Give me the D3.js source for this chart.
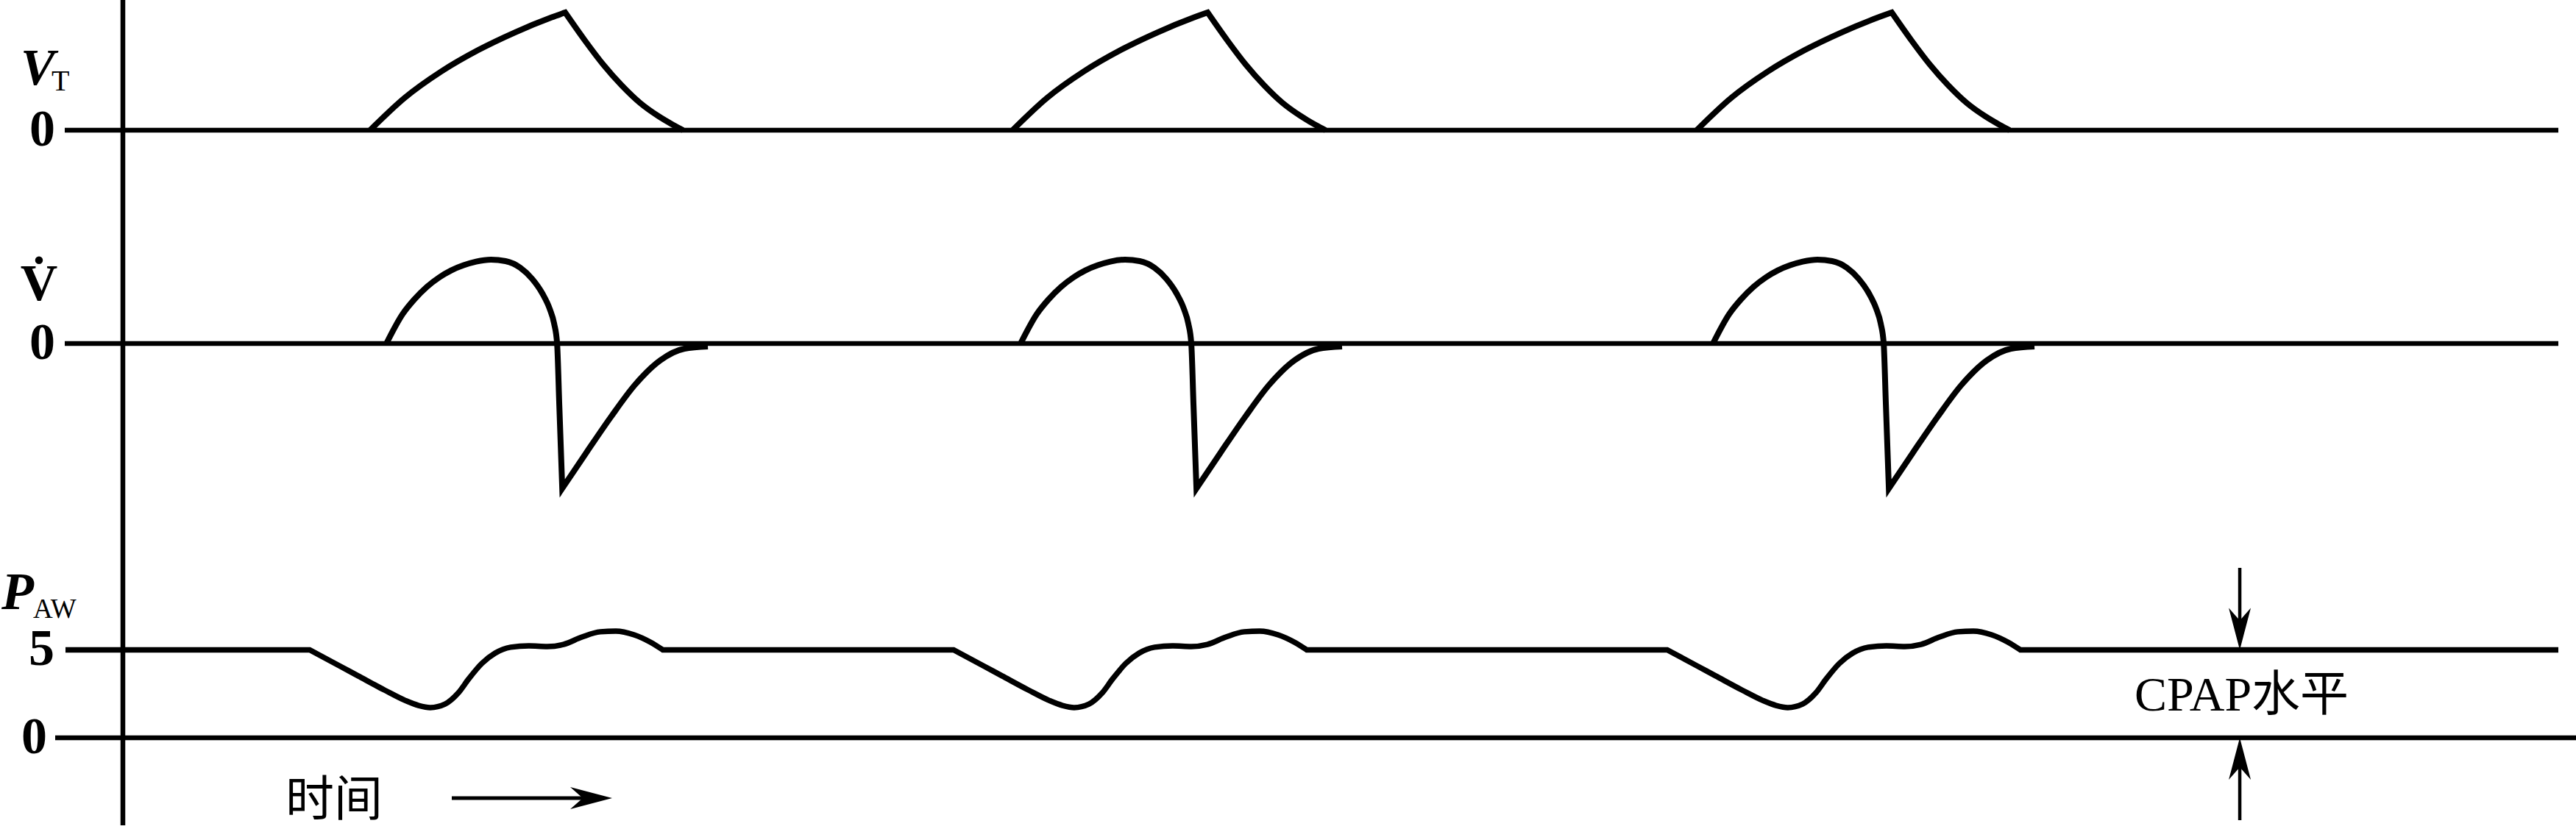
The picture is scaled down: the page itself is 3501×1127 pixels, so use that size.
<!DOCTYPE html>
<html><head><meta charset="utf-8">
<script src="https://cdn.jsdelivr.net/npm/d3@7"></script>
<style>html,body{margin:0;padding:0;background:#fff;} svg{display:block}</style>
</head><body>
<svg id="chart" width="3501" height="1127"></svg>
<script>
// ---------------- data (time in arbitrary units, 0 = vertical axis) ----------------
const timeDomain = [0, 100];

// Tidal volume V_T (relative units), one breath template: [t from breath start, value]
const vtCycleStarts = [10.15, 36.53, 64.62];
const vtInspiration = [[0,0],[1.42,0.275],[2.93,0.50],[4.44,0.681],[5.95,0.831],[7.46,0.959],[8.01,1.0]];
const vtExpiration  = [[8.01,1.0],[8.82,0.7625],[9.58,0.556],[10.33,0.381],[11.09,0.231],[11.84,0.119],[12.45,0.044],[12.85,0]];

// Flow V̇ (relative units)
const flowCycleStarts = [10.82, 36.86, 65.29];
const flowInspiration = [[0,0],[0.665,0.20],[1.148,0.30],[1.662,0.385],[2.175,0.45],[2.659,0.497],
  [3.172,0.532],[3.686,0.557],[4.290,0.57],[4.894,0.56],[5.498,0.515],[5.982,0.44],[6.405,0.34],
  [6.707,0.235],[6.888,0.135],[7.009,0],[7.10,-0.42],[7.221,-0.985]];
const flowExpiration = [[7.221,-0.985],[8.218,-0.74],[9.215,-0.50],[10.21,-0.28],
  [11.24,-0.115],[12.24,-0.035],[13.20,-0.02]];

// Airway pressure P_AW (cmH2O)
const cpapLevel = 5;
const pawCycleStarts = [7.67, 34.11, 63.41];
const pawCycle = [[0,5.0],[1.24,4.08],[1.99,3.52],[3.08,2.71],[3.93,2.12],[4.47,1.84],[4.95,1.72],
  [5.56,1.92],[6.10,2.55],[6.53,3.35],[7.07,4.23],[7.61,4.81],[8.25,5.15],[9.00,5.23],[9.76,5.19],
  [10.42,5.31],[11.18,5.73],[11.93,6.03],[12.57,6.07],[13.32,5.86],[13.99,5.44],[14.50,5.0]];

const vtTicks = ["0"];
const flowTicks = ["0"];
const pawTicks = [5, 0];
const cpapArrowT = 86.92;
const cpapLabelT = 82.6;

// ---------------- scales ----------------
const svg = d3.select("#chart");
const x = d3.scaleLinear().domain(timeDomain).range([167, 3477]);
const yVT = d3.scaleLinear().domain([0, 1]).range([177, 17]);
const yFlow = d3.scaleLinear().domain([0, 1]).range([467, 267]);
const yPAW = d3.scaleLinear().domain([0, 5]).range([1003, 883.5]);

const serif = "'Liberation Serif','Times New Roman',serif";
const cjk = "'Liberation Serif','Noto Sans CJK SC',serif";

svg.append("rect").attr("width", 3501).attr("height", 1127).attr("fill", "#fff");

// joins several line segments into one continuous path (sharp corners between them)
function joined(segments) {
  let d = "";
  segments.forEach((s, i) => {
    const gen = d3.line().x(p => x(p[0])).y(p => s.y(p[1])).curve(s.curve);
    let part = gen(s.points);
    if (i > 0) part = part.replace(/^M[^A-Za-z]*/, "");
    d += part;
  });
  return d;
}
const smooth = d3.curveMonotoneX;
const shift = (pts, t0) => pts.map(p => [p[0] + t0, p[1]]);

// ---------------- axes / baselines ----------------
const axisG = svg.append("g").attr("stroke", "#000").attr("stroke-width", 6.5);
axisG.append("line").attr("x1", x(0)).attr("x2", x(0)).attr("y1", 0).attr("y2", 1122);
axisG.append("line").attr("x1", 88).attr("x2", x(100)).attr("y1", yVT(0)).attr("y2", yVT(0));
axisG.append("line").attr("x1", 88).attr("x2", x(100)).attr("y1", yFlow(0)).attr("y2", yFlow(0));
axisG.append("line").attr("x1", 75).attr("x2", 3501).attr("y1", yPAW(0)).attr("y2", yPAW(0));

// ---------------- traces ----------------
const traceG = svg.append("g").attr("fill", "none").attr("stroke", "#000")
  .attr("stroke-width", 8).attr("stroke-linejoin", "miter").attr("stroke-miterlimit", 10);

vtCycleStarts.forEach(t0 => {
  traceG.append("path").attr("d", joined([
    {points: shift(vtInspiration, t0), y: yVT, curve: smooth},
    {points: shift(vtExpiration, t0), y: yVT, curve: smooth}
  ]));
});

flowCycleStarts.forEach(t0 => {
  traceG.append("path").attr("d", joined([
    {points: shift(flowInspiration, t0), y: yFlow, curve: smooth},
    {points: shift(flowExpiration, t0), y: yFlow, curve: smooth}
  ]));
});

// pressure: flat CPAP line interrupted by each breath
const pawSegs = [];
let prevT = x.invert(89);
pawCycleStarts.forEach(t0 => {
  pawSegs.push({points: [[prevT, cpapLevel], [t0, cpapLevel]], y: yPAW, curve: d3.curveLinear});
  const pts = shift(pawCycle, t0);
  pawSegs.push({points: pts, y: yPAW, curve: smooth});
  prevT = pts[pts.length - 1][0];
});
pawSegs.push({points: [[prevT, cpapLevel], [timeDomain[1], cpapLevel]], y: yPAW, curve: d3.curveLinear});
svg.append("path").attr("d", joined(pawSegs)).attr("fill", "none").attr("stroke", "#000")
  .attr("stroke-width", 7.5).attr("stroke-linejoin", "miter").attr("stroke-miterlimit", 10);

// ---------------- labels ----------------
const txt = svg.append("g").attr("fill", "#000");
// V_T
const vtL = txt.append("text").attr("x", 28).attr("y", 115).attr("font-family", serif);
vtL.append("tspan").attr("font-size", 70).attr("font-weight", "bold").attr("font-style", "italic").text("V");
vtL.append("tspan").attr("x", 70).attr("y", 123).attr("font-size", 40).text("T");
// V dot
txt.append("text").attr("x", 53).attr("y", 408).attr("text-anchor", "middle")
  .attr("font-family", serif).attr("font-size", 70).attr("font-weight", "bold").text("V\u0307");
// P_AW
const pL = txt.append("text").attr("x", 2).attr("y", 828).attr("font-family", serif);
pL.append("tspan").attr("font-size", 72).attr("font-weight", "bold").attr("font-style", "italic").text("P");
pL.append("tspan").attr("x", 45).attr("y", 840).attr("font-size", 37).text("AW");

// tick labels
const tickFont = sel => sel.attr("font-family", serif).attr("font-size", 70)
  .attr("font-weight", "bold").attr("text-anchor", "end");
vtTicks.forEach(v => txt.append("text").attr("x", 75).attr("y", yVT(+v) + 20.5).call(tickFont).text(v));
flowTicks.forEach(v => txt.append("text").attr("x", 75).attr("y", yFlow(+v) + 20.5).call(tickFont).text(v));
const pawTickX = {5: 74, 0: 64};
pawTicks.forEach(v => txt.append("text").attr("x", pawTickX[v]).attr("y", yPAW(v) + 20.5).call(tickFont).text(String(v)));

// time label and arrow
txt.append("text").attr("x", 388).attr("y", 1109).attr("font-family", cjk).attr("font-size", 66).text("时间");
svg.append("line").attr("x1", 614).attr("x2", 800).attr("y1", 1085).attr("y2", 1085)
  .attr("stroke", "#000").attr("stroke-width", 5);
function arrowHead(tx, ty, angleDeg) {
  const shape = [[0,0],[-57,-15],[-40,0],[-57,15]];
  svg.append("path").attr("d", "M" + shape.map(p => p.join(",")).join("L") + "Z")
    .attr("transform", `translate(${tx},${ty}) rotate(${angleDeg})`).attr("fill", "#000");
}
arrowHead(832, 1085, 0);

// CPAP annotation
const ax = x(cpapArrowT);
svg.append("line").attr("x1", ax).attr("x2", ax).attr("y1", 772).attr("y2", yPAW(cpapLevel) - 30)
  .attr("stroke", "#000").attr("stroke-width", 4.5);
arrowHead(ax, yPAW(cpapLevel), 90);
svg.append("line").attr("x1", ax).attr("x2", ax).attr("y1", yPAW(0) + 30).attr("y2", 1115)
  .attr("stroke", "#000").attr("stroke-width", 4.5);
arrowHead(ax, yPAW(0), -90);
txt.append("text").attr("x", x(cpapLabelT)).attr("y", 966).attr("font-family", cjk)
  .attr("font-size", 66).text("CPAP水平");
</script>
</body></html>
